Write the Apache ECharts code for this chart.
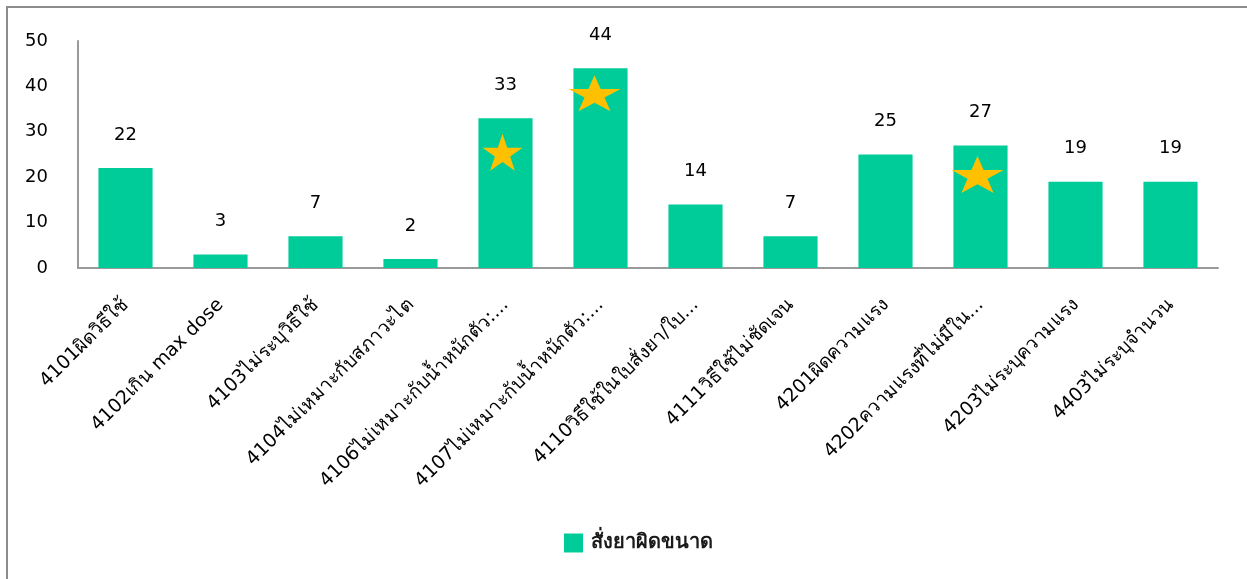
<!DOCTYPE html>
<html>
<head>
<meta charset="utf-8">
<script src="https://cdn.jsdelivr.net/npm/echarts@6/dist/echarts.min.js"></script>
<style>
  html, body { margin: 0; padding: 0; background: #ffffff; }
  #chart { width: 1247px; height: 579px; }
</style>
</head>
<body>
<div id="chart"></div>
<script>
// Categories: medication error codes (wrong-dose prescriptions)
const categories = [
  '4101ผิดวิธีใช้',
  '4102เกิน max dose',
  '4103ไม่ระบุวิธีใช้',
  '4104ไม่เหมาะกับสภาวะไต',
  '4106ไม่เหมาะกับน้ำหนักตัว:...',
  '4107ไม่เหมาะกับน้ำหนักตัว:...',
  '4110วิธีใช้ในใบสั่งยา/ใบ...',
  '4111วิธีใช้ไม่ชัดเจน',
  '4201ผิดความแรง',
  '4202ความแรงที่ไม่มีใน...',
  '4203ไม่ระบุความแรง',
  '4403ไม่ระบุจำนวน'
];

// Counts per category
const counts = [22, 3, 7, 2, 33, 44, 14, 7, 25, 27, 19, 19];

const seriesName = 'สั่งยาผิดขนาด';

// Highlighted categories (star markers) and the value height where each star sits
const starCategoryIndex = [4, 5, 9];
const starValues = [25.5, 38.5, 20.6];

// Y axis ticks
const yTicks = [0, 10, 20, 30, 40, 50];

// Marker look (not data)
const starPath = 'path://M50,0 L61.2,34.5 L97.6,34.5 L68.2,55.9 L79.4,90.5 L50,69.1 L20.6,90.5 L31.8,55.9 L2.4,34.5 L38.8,34.5 Z';
const starSizes = [[40, 37], [52, 36], [52, 37]];
const starOffsets = [[-3, 0], [-6, 0], [-3, 0]];

const FONT = "'DejaVu Sans', Verdana, sans-serif";

const chart = echarts.init(document.getElementById('chart'), null, { renderer: 'canvas' });

const starData = starCategoryIndex.map((ci, i) => ({
  value: [ci, starValues[i]],
  symbolSize: starSizes[i],
  symbolOffset: starOffsets[i]
}));

chart.setOption({
  animation: false,
  backgroundColor: '#ffffff',
  textStyle: { fontFamily: FONT },
  graphic: [{
    type: 'polyline',
    shape: { points: [[7, 579], [7, 7], [1247, 7]] },
    style: { stroke: '#8c8c8c', lineWidth: 2, fill: null },
    silent: true
  }],
  grid: { left: 78, right: 29, top: 41, bottom: 311, containLabel: false },
  legend: {
    data: [seriesName],
    left: 559,
    top: 528,
    itemWidth: 19,
    itemHeight: 19,
    icon: 'rect',
    textStyle: { fontFamily: FONT, fontSize: 20, color: '#1a1a1a', fontWeight: 'bold', padding: [0, 0, 0, 3] }
  },
  xAxis: {
    type: 'category',
    data: categories,
    axisLine: { show: true, lineStyle: { color: '#9a9a9a', width: 2 } },
    axisTick: { show: false },
    axisLabel: {
      interval: 0,
      rotate: 45,
      margin: 34,
      fontFamily: FONT,
      fontSize: 19,
      color: '#000000'
    }
  },
  yAxis: {
    type: 'value',
    min: yTicks[0],
    max: yTicks[yTicks.length - 1],
    interval: yTicks[1] - yTicks[0],
    axisLine: { show: true, lineStyle: { color: '#9a9a9a', width: 2 } },
    axisTick: { show: false },
    splitLine: { show: false },
    axisLabel: {
      margin: 30,
      fontFamily: FONT,
      fontSize: 18,
      color: '#000000'
    }
  },
  series: [
    {
      name: seriesName,
      type: 'bar',
      data: counts,
      barWidth: '57%',
      itemStyle: { color: '#00cc99' },
      label: {
        show: true,
        position: 'top',
        distance: 24,
        fontFamily: FONT,
        fontSize: 18,
        color: '#000000'
      },
      z: 2
    },
    {
      name: 'star',
      type: 'scatter',
      data: starData,
      symbol: starPath,
      itemStyle: { color: '#ffc000', opacity: 1 },
      silent: true,
      z: 5
    }
  ]
});
</script>
</body>
</html>
